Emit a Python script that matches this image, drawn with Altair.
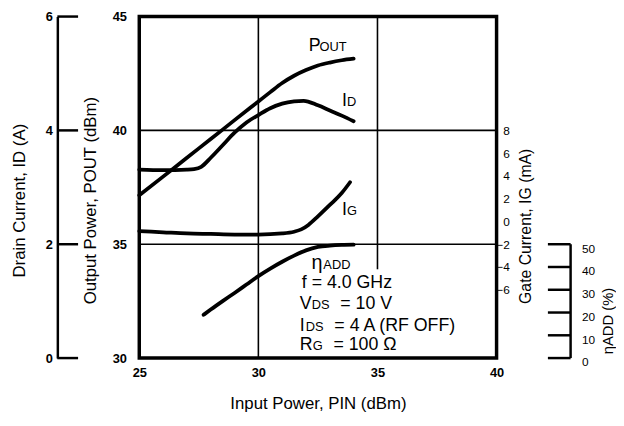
import altair as alt
import pandas as pd

FONT = "Liberation Sans, Arial, Helvetica, sans-serif"

# ---- tick labels ----
pin_ticks = [25, 30, 35, 40]
pout_ticks = [30, 35, 40, 45]
id_ticks = [0, 2, 4, 6]
ig_ticks = [-6, -4, -2, 0, 2, 4, 6, 8]
eta_ticks = [0, 10, 20, 30, 40, 50]

# ---- series ----
pout_pin = [25, 26, 27, 28, 29, 30, 30.5, 31, 31.5, 32, 32.5, 33, 33.5, 34]
pout_dbm = [37.15, 37.97, 38.8, 39.62, 40.45, 41.27, 41.68, 42.08, 42.4, 42.65, 42.85, 42.98, 43.08, 43.15]

id_pin = [25, 26, 27, 27.3, 27.6, 28, 28.5, 29, 29.5, 30, 30.5, 31, 31.5, 31.9, 32.5, 33, 33.5, 34]
id_amp = [3.31, 3.30, 3.31, 3.32, 3.36, 3.52, 3.74, 3.96, 4.14, 4.27, 4.39, 4.47, 4.51, 4.52, 4.44, 4.35, 4.26, 4.16]

ig_pin = [25, 26, 27, 28, 29, 30, 31, 31.5, 31.8, 32.1, 32.5, 33, 33.5, 33.85]
ig_ma = [-0.85, -0.95, -1.05, -1.1, -1.15, -1.15, -1.05, -0.9, -0.7, -0.3, 0.45, 1.45, 2.5, 3.45]

eta_pin = [27.7, 28, 28.5, 29, 29.5, 30, 30.5, 31, 31.5, 32, 32.5, 33, 33.5, 34]
eta_pct = [19, 21.3, 25, 28.6, 32.3, 36, 39.3, 42.3, 45, 47.3, 48.8, 49.4, 49.7, 49.8]

# gridlines (vertical ones: x, lower end, upper end in dBm)
vgrid_pin = [30, 35]
vgrid_lo = [30, 33.9]
vgrid_hi = [45, 45]
hgrid_dbm = [35, 40]

# ---- scales ----
xs = alt.Scale(domain=[25, 40], nice=False, zero=False)
ys_pout = alt.Scale(domain=[30, 45], nice=False, zero=False)
ys_id = alt.Scale(domain=[0, 6], nice=False, zero=False)
ys_ig = alt.Scale(domain=[-12, 18], nice=False, zero=False)
ys_eta = alt.Scale(domain=[0, 150], nice=False, zero=False)

x_axis = alt.Axis(values=pin_ticks, grid=False, ticks=False, tickSize=0, domain=False,
                  labelFlush=False, labelPadding=9, labelFontSize=13, labelFontWeight="bold",
                  labelColor="black", titleColor="black", titleFontSize=17,
                  titleFontWeight="normal", titlePadding=16)
X = alt.X("pin:Q", scale=xs, axis=x_axis, title="Input Power, PIN (dBm)")

LW = 3.8

def line_layer(pins, vals, field, scale, axis):
    df = pd.DataFrame({"pin": pins, field: vals})
    return alt.Chart(df).mark_line(color="black", strokeWidth=LW, interpolate="monotone",
                                   strokeCap="round").encode(
        x=X, y=alt.Y(f"{field}:Q", scale=scale, axis=axis))

pout_axis = alt.Axis(orient="left", values=pout_ticks, grid=False, ticks=False, tickSize=0,
                     domain=False, labelPadding=13, labelFontSize=13, labelFontWeight="bold",
                     labelColor="black", title="Output Power, POUT (dBm)", titleFontSize=17,
                     titleFontWeight="normal", titleColor="black", titlePadding=13, titleY=186)
id_axis = alt.Axis(orient="left", offset=83, values=id_ticks, grid=False, ticks=False, tickSize=0,
                   domain=True, domainColor="black", domainWidth=2.5, labelPadding=5,
                   labelFontSize=13, labelFontWeight="bold", labelColor="black",
                   title="Drain Current, ID (A)", titleFontSize=17, titleFontWeight="normal",
                   titleColor="black", titlePadding=17, titleY=186)
ig_axis = alt.Axis(orient="right", values=ig_ticks, grid=False, ticks=False, tickSize=0,
                   domain=False, labelAlign="right", labelPadding=13, labelFontSize=12,
                   labelColor="black", title="Gate Current, IG (mA)", titleAngle=270,
                   titleBaseline="top", titleFontSize=16, titleFontWeight="normal",
                   titleColor="black", titlePadding=8, titleY=212)
eta_axis = alt.Axis(orient="right", offset=75, values=eta_ticks, grid=False, ticks=False,
                    tickSize=0, domain=False, labelAlign="left", labelPadding=11,
                    labelOffset=4, labelFontSize=12, labelColor="black",
                    title="ηADD (%)", titleAngle=270, titleBaseline="top", titleFontSize=15,
                    titleFontWeight="normal", titleColor="black", titlePadding=6, titleY=308)

pout_line = line_layer(pout_pin, pout_dbm, "pout", ys_pout, pout_axis)
id_line = line_layer(id_pin, id_amp, "ida", ys_id, id_axis)
ig_line = line_layer(ig_pin, ig_ma, "igm", ys_ig, ig_axis)
eta_line = line_layer(eta_pin, eta_pct, "eta", ys_eta, eta_axis)

# gridlines
grid_v = alt.Chart(pd.DataFrame({"pin": vgrid_pin, "lo": vgrid_lo, "hi": vgrid_hi})).mark_rule(
    color="black", strokeWidth=1.6).encode(
    x=X, y=alt.Y("lo:Q", scale=ys_pout, axis=None), y2="hi:Q")
grid_h = alt.Chart(pd.DataFrame({"g": hgrid_dbm})).mark_rule(color="black", strokeWidth=1.6).encode(
    y=alt.Y("g:Q", scale=ys_pout, axis=None))

# drain-current axis ticks (pointing inward)
id_tick_rules = alt.Chart(pd.DataFrame({"v": id_ticks})).mark_rule(color="black", strokeWidth=2.5).encode(
    y=alt.Y("v:Q", scale=ys_id, axis=None), x=alt.value(-83), x2=alt.value(-62))

# efficiency axis line and ticks
eta_df = pd.DataFrame({"v": eta_ticks})
eta_axis_line = alt.Chart(eta_df).mark_rule(color="black", strokeWidth=2.5).encode(
    x=alt.value(437), y=alt.Y("min(v):Q", scale=ys_eta, axis=None), y2="max(v):Q")
eta_tick_rules = alt.Chart(eta_df).mark_rule(color="black", strokeWidth=2.5).encode(
    y=alt.Y("v:Q", scale=ys_eta, axis=None), x=alt.value(414), x2=alt.value(437))

# ---- annotations: (pin, dBm, text, font size, dx) ----
BIG = 18
SMALL = 13
annotations = [
    (32.11, 43.48, "P", BIG, 0), (32.11, 43.48, "OUT", SMALL, 11),
    (33.51, 41.06, "I", BIG, 0), (33.51, 41.06, "D", SMALL, 5),
    (33.51, 36.29, "I", BIG, 0), (33.51, 36.29, "G", SMALL, 5),
    (32.23, 33.90, "η", 20, 0), (32.23, 33.90, "ADD", SMALL, 12),
    (31.74, 33.08, "f = 4.0 GHz", BIG, 2),
    (31.74, 32.17, "V", BIG, 0), (31.74, 32.17, "DS", SMALL, 12), (31.74, 32.17, "=  10 V", BIG, 41),
    (31.74, 31.21, "I", BIG, 0), (31.74, 31.21, "DS", SMALL, 6), (31.74, 31.21, "=  4 A (RF OFF)", BIG, 35),
    (31.74, 30.35, "R", BIG, 0), (31.74, 30.35, "G", SMALL, 13), (31.74, 30.35, "=  100 Ω", BIG, 34),
]

def label(pin, dbm, text, size, dx):
    df = pd.DataFrame({"pin": [pin], "pout": [dbm], "t": [text]})
    return alt.Chart(df).mark_text(align="left", baseline="alphabetic", dx=dx, fontSize=size,
                                   font=FONT, color="black").encode(
        x=X, y=alt.Y("pout:Q", scale=ys_pout, axis=None), text="t:N")

label_layers = [label(*a) for a in annotations]

layers = [grid_v, grid_h, pout_line, id_line, id_tick_rules, ig_line, eta_line,
          eta_axis_line, eta_tick_rules] + label_layers

chart = alt.layer(*layers).resolve_scale(y="independent").properties(
    width=362, height=346,
    padding={"left": 2, "top": 0, "right": 0, "bottom": 0},
    background="white",
).configure(font=FONT).configure_view(stroke="black", strokeWidth=3.5)

chart.save("out.html", embed_options={"renderer": "svg", "actions": False})
